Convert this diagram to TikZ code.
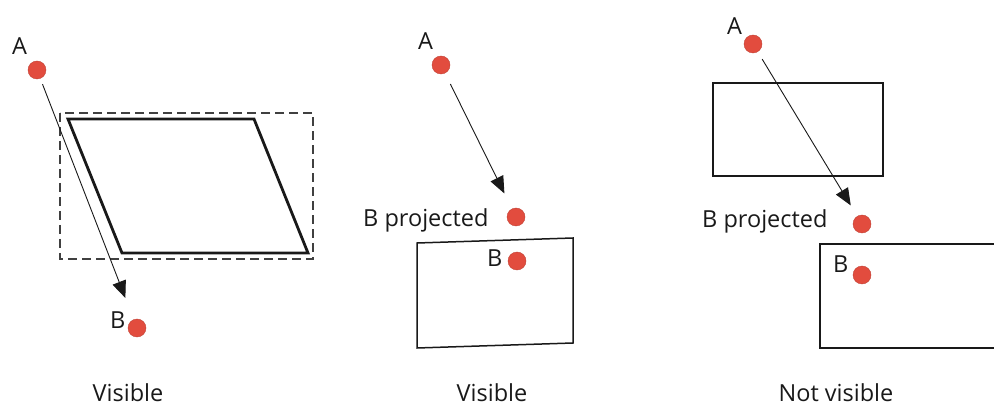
\documentclass[tikz,border=0pt]{standalone}
\usepackage{fontspec}
\setmainfont{Open Sans}
\usetikzlibrary{arrows.meta}
\definecolor{dotred}{RGB}{226,76,62}
\definecolor{ink}{RGB}{25,25,25}
\tikzset{
  pt/.style={circle, fill=dotred, draw=dotred!85!black, line width=0.4pt, inner sep=0pt, minimum size=18pt},
  lbl/.style={anchor=base west, inner sep=0pt, font=\fontsize{23.5}{28}\selectfont, text=ink},
  caption/.style={anchor=base, inner sep=0pt, font=\fontsize{23.5}{28}\selectfont, text=ink},
  ray/.style={draw=ink, line width=0.9pt, -{Triangle[length=17pt,width=14pt]}},
  face/.style={draw=ink, line width=1.5pt},
  thickface/.style={draw=ink, line width=2.8pt, line join=miter},
  bbox/.style={draw=black!75, line width=1.2pt, dash pattern=on 9pt off 5pt}
}
\begin{document}
\begin{tikzpicture}[x=1pt, y=-1pt]
\useasboundingbox (0,0) rectangle (994,406);
\clip (0,0) rectangle (994,406);

% ---- left: slanted face with its bounding box ----
\draw[bbox] (60,113) rectangle (313,259);
\draw[thickface] (68,119) -- (254,119) -- (308,253) -- (122,253) -- cycle;
\node[pt] (A1) at (37,70) {};
\node[pt] (B1) at (137,328) {};
\node[lbl] (la1) at (12,55) {A};
\node[lbl] (lb1) at (110,328) {B};
\draw[ray, shorten <=6pt, shorten >=23pt] (A1) -- (B1);
\node[caption] (v1) at (128,401) {Visible};

% ---- middle: B lies on the face below ----
\draw[face] (417,243) -- (573,238) -- (573,343) -- (417,348) -- cycle;
\node[pt] (A2) at (441,65) {};
\node[pt] (P2) at (516,217) {};
\node[pt] (B2) at (517,261) {};
\node[lbl] (la2) at (418,50) {A};
\node[lbl] (lp2) at (363,227) {B projected};
\node[lbl] (lb2) at (487,267) {B};
\draw[ray, shorten <=12pt, shorten >=17pt] (A2) -- (P2);
\node[caption] (v2) at (492,401) {Visible};

% ---- right: an occluding face between A and B ----
\draw[face] (713,83) rectangle (883,176);
\draw[face] (1000,244) -- (820,244) -- (820,348) -- (1000,348);
\node[pt] (A3) at (753,44) {};
\node[pt] (P3) at (862,224) {};
\node[pt] (B3) at (862,275) {};
\node[lbl] (la3) at (727,35) {A};
\node[lbl] (lp3) at (702,228) {B projected};
\node[lbl] (lb3) at (833,273) {B};
\draw[ray, shorten <=8.5pt, shorten >=12.5pt] (A3) -- (P3);
\node[caption] (v3) at (836,401) {Not visible};
\end{tikzpicture}
\end{document}
